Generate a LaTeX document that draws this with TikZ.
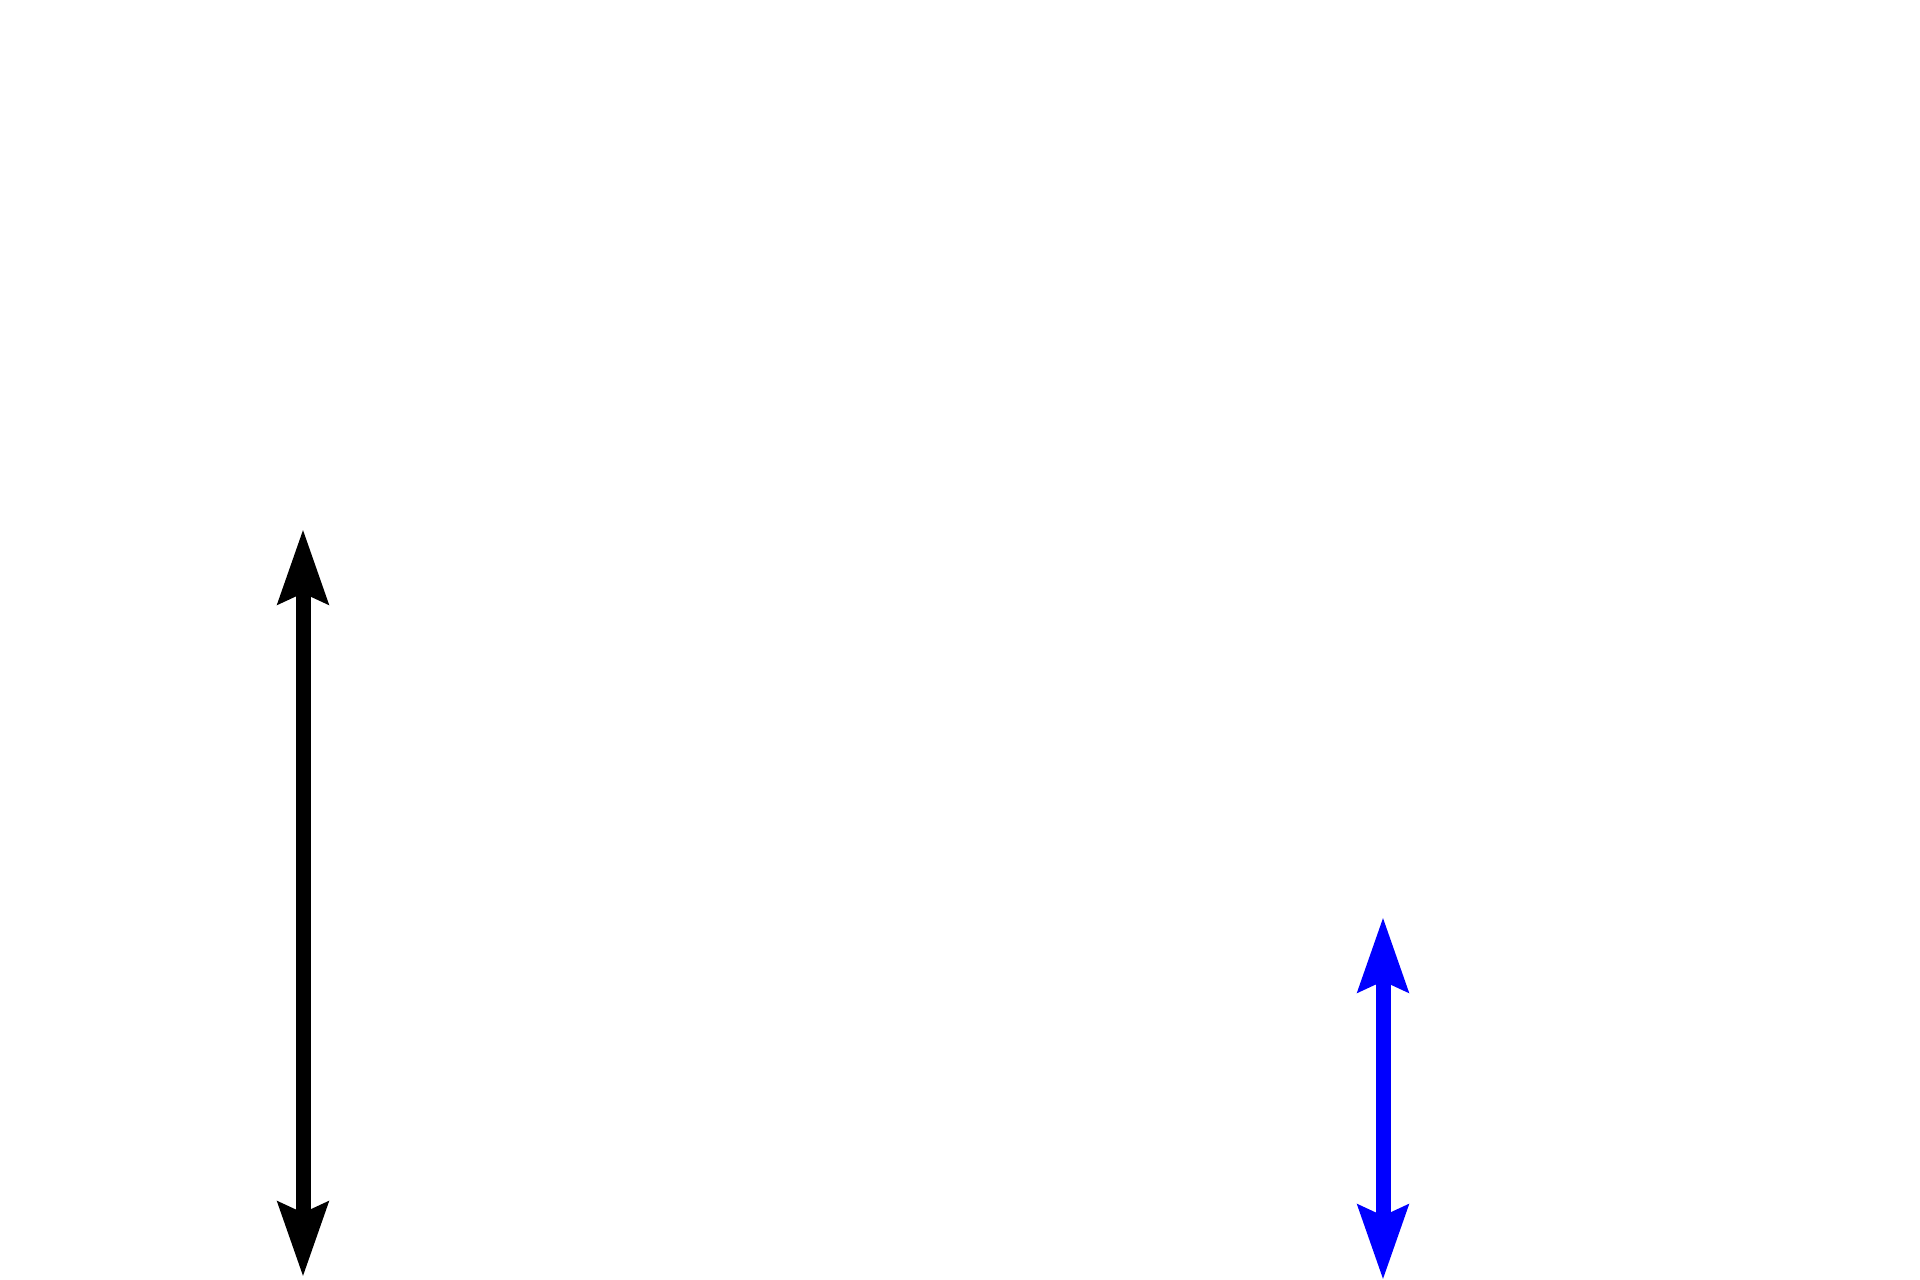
\documentclass[tikz,border=0pt]{standalone}
\usetikzlibrary{arrows.meta}

\tikzset{
	twoway/.style={{Stealth[length=0.74cm,width=0.49cm,inset=0.1cm]}-{Stealth[length=0.74cm,width=0.49cm,inset=0.1cm]}, line width=0.15cm}
}

\begin{document}
\begin{tikzpicture}
		
		\useasboundingbox (0,0) rectangle (19.2,12.8);
		
		\coordinate (bigtop) at (3.03,7.51);
		\coordinate (bigbot) at (3.03,0.03);
		\coordinate (smalltop) at (13.83,3.63);
		\coordinate (smallbot) at (13.83,0.0);
		
		\draw[twoway, black] (bigbot) -- (bigtop);
		\draw[twoway, blue] (smallbot) -- (smalltop);
		
		
	\end{tikzpicture}
\end{document}
